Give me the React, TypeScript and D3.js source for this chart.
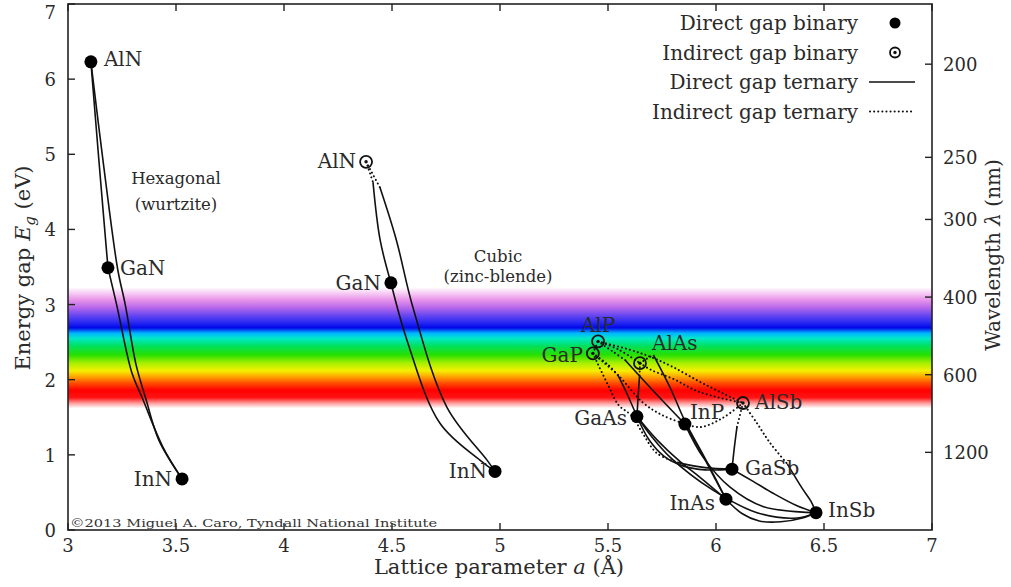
import React from 'react';
import * as d3 from 'd3';

// binaries: lattice parameter a (Å), band gap Eg (eV)
const wurtziteBinaries = [
  { name: 'AlN', a: 3.106, eg: 6.23, direct: true },
  { name: 'GaN', a: 3.185, eg: 3.49, direct: true },
  { name: 'InN', a: 3.528, eg: 0.68, direct: true },
];
const cubicNitrides = [
  { name: 'AlN', a: 4.38, eg: 4.9, direct: false },
  { name: 'GaN', a: 4.495, eg: 3.29, direct: true },
  { name: 'InN', a: 4.977, eg: 0.78, direct: true },
];
const cubicIIIV = [
  { name: 'AlP', a: 5.454, eg: 2.51, direct: false },
  { name: 'GaP', a: 5.43, eg: 2.35, direct: false },
  { name: 'AlAs', a: 5.648, eg: 2.22, direct: false },
  { name: 'AlSb', a: 6.125, eg: 1.69, direct: false },
  { name: 'GaAs', a: 5.634, eg: 1.51, direct: true },
  { name: 'InP', a: 5.856, eg: 1.41, direct: true },
  { name: 'GaSb', a: 6.074, eg: 0.81, direct: true },
  { name: 'InAs', a: 6.046, eg: 0.41, direct: true },
  { name: 'InSb', a: 6.463, eg: 0.23, direct: true },
];

// ternary curves, split in indirect / direct parts
const wurtziteTernaries = [
  { pair: 'AlN-GaN', parts: [{ gap: 'direct', pts: [[3.106, 6.23], [3.145, 4.85], [3.185, 3.49]] }] },
  { pair: 'AlN-InN', parts: [{ gap: 'direct', pts: [[3.106, 6.23], [3.165, 4.85], [3.23, 3.47], [3.265, 3.0], [3.315, 2.2], [3.36, 1.75], [3.42, 1.2], [3.528, 0.68]] }] },
  { pair: 'GaN-InN', parts: [{ gap: 'direct', pts: [[3.185, 3.49], [3.225, 3.0], [3.295, 2.1], [3.345, 1.75], [3.44, 1.1], [3.528, 0.68]] }] },
];
const cubicNitrideTernaries = [
  { pair: 'AlN-GaN', parts: [
    { gap: 'indirect', pts: [[4.38, 4.9], [4.412, 4.63]] },
    { gap: 'direct', pts: [[4.412, 4.63], [4.445, 3.86], [4.495, 3.29]] },
  ] },
  { pair: 'AlN-InN', parts: [
    { gap: 'indirect', pts: [[4.38, 4.9], [4.444, 4.56]] },
    { gap: 'direct', pts: [[4.444, 4.56], [4.52, 3.86], [4.597, 2.96], [4.755, 1.63], [4.94, 0.93], [4.977, 0.78]] },
  ] },
  { pair: 'GaN-InN', parts: [
    { gap: 'direct', pts: [[4.495, 3.29], [4.57, 2.52], [4.722, 1.42], [4.907, 0.93], [4.977, 0.78]] },
  ] },
];
const iiiVTernaries = [
  { pair: 'GaP-AlP', parts: [{ gap: 'indirect', pts: [[5.43, 2.35], [5.454, 2.51]] }] },
  { pair: 'AlP-AlAs', parts: [{ gap: 'indirect', pts: [[5.454, 2.51], [5.55, 2.4], [5.648, 2.22]] }] },
  { pair: 'AlP-AlSb', parts: [{ gap: 'indirect', pts: [[5.454, 2.51], [5.6, 2.4], [5.7, 2.3], [5.8, 2.17], [5.94, 1.95], [6.125, 1.69]] }] },
  { pair: 'AlAs-AlSb', parts: [{ gap: 'indirect', pts: [[5.648, 2.22], [5.7, 2.13], [5.81, 2.0], [5.92, 1.84], [6.125, 1.69]] }] },
  { pair: 'GaP-GaAs', parts: [
    { gap: 'indirect', pts: [[5.43, 2.35], [5.5, 2.2], [5.546, 2.06]] },
    { gap: 'direct', pts: [[5.546, 2.06], [5.59, 1.8], [5.634, 1.51]] },
  ] },
  { pair: 'GaP-InP', parts: [{ gap: 'indirect', pts: [[5.43, 2.35], [5.55, 2.05], [5.66, 1.7], [5.75, 1.53], [5.856, 1.41]] }] },
  { pair: 'GaP-GaSb', parts: [
    { gap: 'indirect', pts: [[5.43, 2.35], [5.5, 1.93], [5.55, 1.66], [5.61, 1.52], [5.66, 1.29], [5.727, 1.02], [5.82, 0.9]] },
    { gap: 'direct', pts: [[5.82, 0.9], [5.95, 0.83], [6.074, 0.81]] },
  ] },
  { pair: 'AlP-InP', parts: [
    { gap: 'indirect', pts: [[5.454, 2.51], [5.52, 2.38], [5.58, 2.26]] },
    { gap: 'direct', pts: [[5.58, 2.26], [5.72, 1.82], [5.856, 1.41]] },
  ] },
  { pair: 'AlAs-GaAs', parts: [
    { gap: 'indirect', pts: [[5.648, 2.22], [5.646, 2.05]] },
    { gap: 'direct', pts: [[5.646, 2.05], [5.64, 1.8], [5.634, 1.51]] },
  ] },
  { pair: 'AlAs-InAs', parts: [
    { gap: 'indirect', pts: [[5.648, 2.22], [5.68, 2.28], [5.71, 2.33]] },
    { gap: 'direct', pts: [[5.71, 2.33], [5.79, 1.88], [5.856, 1.45], [5.95, 0.95], [6.046, 0.41]] },
  ] },
  { pair: 'GaAs-InAs', parts: [{ gap: 'direct', pts: [[5.634, 1.51], [5.727, 1.2], [5.83, 0.92], [5.926, 0.7], [6.046, 0.41]] }] },
  { pair: 'InP-InAs', parts: [{ gap: 'direct', pts: [[5.856, 1.41], [5.926, 1.06], [6.0, 0.66], [6.046, 0.41]] }] },
  { pair: 'InP-InSb', parts: [{ gap: 'direct', pts: [[5.856, 1.41], [5.94, 0.97], [6.065, 0.57], [6.22, 0.31], [6.463, 0.23]] }] },
  { pair: 'GaAs-GaSb', parts: [{ gap: 'direct', pts: [[5.634, 1.51], [5.69, 1.2], [5.76, 0.98], [5.85, 0.85], [5.95, 0.8], [6.074, 0.81]] }] },
  { pair: 'GaAs-InSb', parts: [{ gap: 'direct', pts: [[5.634, 1.51], [5.7, 1.25], [5.787, 0.97], [5.986, 0.53], [6.19, 0.23], [6.375, 0.16], [6.463, 0.23]] }] },
  { pair: 'InAs-InSb', parts: [{ gap: 'direct', pts: [[6.046, 0.41], [6.12, 0.22], [6.2, 0.12], [6.3, 0.11], [6.4, 0.16], [6.463, 0.23]] }] },
  { pair: 'GaSb-InSb', parts: [{ gap: 'direct', pts: [[6.074, 0.81], [6.17, 0.65], [6.264, 0.49], [6.37, 0.33], [6.463, 0.23]] }] },
  { pair: 'AlSb-GaSb', parts: [
    { gap: 'indirect', pts: [[6.125, 1.69], [6.097, 1.37]] },
    { gap: 'direct', pts: [[6.097, 1.37], [6.085, 1.1], [6.074, 0.81]] },
  ] },
  { pair: 'AlSb-InSb', parts: [
    { gap: 'indirect', pts: [[6.125, 1.69], [6.19, 1.42], [6.25, 1.16], [6.33, 0.88]] },
    { gap: 'direct', pts: [[6.33, 0.88], [6.4, 0.55], [6.44, 0.38], [6.463, 0.23]] },
  ] },
  { pair: 'InP-AlSb', parts: [{ gap: 'indirect', pts: [[5.856, 1.41], [5.93, 1.37], [6.03, 1.49], [6.125, 1.69]] }] },
];

// visible spectrum band: photon energy (eV) -> colour
const spectrumEnergy = [3.23, 3.15, 3.07, 2.96, 2.86, 2.76, 2.69, 2.62, 2.55, 2.45, 2.33, 2.22, 2.12, 2.04, 1.96, 1.86, 1.76, 1.69, 1.62];
const spectrumColor = ['#ffffff', '#f6ccf4', '#ea98ea', '#b868ea', '#6a48f0', '#2828f4', '#0008e8', '#00b4ff', '#00e8c8', '#00e060', '#28e000', '#a8f000', '#f4f000', '#ffa400', '#ff5200', '#ff0000', '#ff1414', '#ff9898', '#ffffff'];

const xTicks = [3, 3.5, 4, 4.5, 5, 5.5, 6, 6.5, 7];
const yTicks = [0, 1, 2, 3, 4, 5, 6, 7];
const wavelengthTicks = [200, 250, 300, 400, 600, 1200];
const legendLabels = ['Direct gap binary', 'Indirect gap binary', 'Direct gap ternary', 'Indirect gap ternary'];

// label placement around markers (dx, dy, anchor)
const labelPlace: Record<string, [number, number, string]> = {
  'wz:AlN': [13, 4, 'start'], 'wz:GaN': [12, 7, 'start'], 'wz:InN': [-10, 7, 'end'],
  'zb:AlN': [-10, 6, 'end'], 'zb:GaN': [-10, 7, 'end'], 'zb:InN': [-8, 7, 'end'],
  'v:AlP': [0, -9, 'middle'], 'v:GaP': [-10, 9, 'end'], 'v:AlAs': [12, -13, 'start'],
  'v:AlSb': [12, 6, 'start'], 'v:GaAs': [-10, 8, 'end'], 'v:InP': [5, -5, 'start'],
  'v:GaSb': [13, 6, 'start'], 'v:InAs': [-11, 11, 'end'], 'v:InSb': [12, 4, 'start'],
};

const FONT = '"DejaVu Serif", serif';
const TXT = '#2a2a2a';

export default function App() {
  const width = 1011, height = 587;
  const margin = { left: 68, right: 79, top: 4, bottom: 57 };
  const x = d3.scaleLinear().domain([3, 7]).range([margin.left, width - margin.right]);
  const y = d3.scaleLinear().domain([0, 7]).range([height - margin.bottom, margin.top]);
  const line = d3.line<number[]>().x(d => x(d[0])).y(d => y(d[1])).curve(d3.curveCatmullRom.alpha(0.5));

  const x0 = x(3), x1 = x(7), y0 = y(0), y1 = y(7);

  const curves = [...wurtziteTernaries, ...cubicNitrideTernaries, ...iiiVTernaries];
  const groups: [string, typeof cubicIIIV][] = [['wz', wurtziteBinaries], ['zb', cubicNitrides], ['v', cubicIIIV]];

  const marker = (cx: number, cy: number, direct: boolean, r = 6.5) =>
    direct ? <circle cx={cx} cy={cy} r={r} fill="#000" /> : (
      <g>
        <circle cx={cx} cy={cy} r={r - 0.5} fill="none" stroke="#111" strokeWidth={1.8} />
        <circle cx={cx} cy={cy} r={1.7} fill="#111" />
      </g>
    );

  return (
    <svg width={width} height={height} style={{ position: 'absolute', left: 0, top: 0, background: '#fff' }} fontFamily={FONT}>
      <defs>
        <linearGradient id="spectrum" gradientUnits="userSpaceOnUse" x1={0} x2={0}
          y1={y(spectrumEnergy[0])} y2={y(spectrumEnergy[spectrumEnergy.length - 1])}>
          {spectrumEnergy.map((e, i) => (
            <stop key={i}
              offset={(y(e) - y(spectrumEnergy[0])) / (y(spectrumEnergy[spectrumEnergy.length - 1]) - y(spectrumEnergy[0]))}
              stopColor={spectrumColor[i]} />
          ))}
        </linearGradient>
      </defs>

      <rect x={x0} y={y(spectrumEnergy[0])} width={x1 - x0}
        height={y(spectrumEnergy[spectrumEnergy.length - 1]) - y(spectrumEnergy[0])} fill="url(#spectrum)" />

      {/* ternary curves */}
      {curves.map(c => c.parts.map((p, i) => (
        <path key={c.pair + i + p.pts[0][0]} d={line(p.pts) || ''} fill="none" stroke="#111"
          strokeWidth={p.gap === 'direct' ? 1.6 : 2}
          strokeDasharray={p.gap === 'direct' ? undefined : '0.1 4'}
          strokeLinecap={p.gap === 'direct' ? 'butt' : 'round'} />
      )))}

      {/* binaries */}
      {groups.map(([g, list]) => list.map(b => {
        const [dx, dy, anchor] = labelPlace[g + ':' + b.name];
        return (
          <g key={g + b.name}>
            {marker(x(b.a), y(b.eg), b.direct)}
            <text x={x(b.a) + dx} y={y(b.eg) + dy} fontSize={20} textAnchor={anchor} fill={TXT}>{b.name}</text>
          </g>
        );
      }))}

      <text x={176} y={184} fontSize={16.5} textAnchor="middle" fill={TXT}>Hexagonal</text>
      <text x={176} y={210} fontSize={16.5} textAnchor="middle" fill={TXT}>(wurtzite)</text>
      <text x={498} y={262} fontSize={16.5} textAnchor="middle" fill={TXT}>Cubic</text>
      <text x={498} y={282} fontSize={16.5} textAnchor="middle" fill={TXT}>(zinc-blende)</text>

      {/* frame and ticks */}
      <rect x={x0} y={y1} width={x1 - x0} height={y0 - y1} fill="none" stroke="#222" strokeWidth={1.6} />
      {xTicks.map(t => (
        <g key={'x' + t}>
          <line x1={x(t)} x2={x(t)} y1={y0} y2={y0 - 7} stroke="#222" strokeWidth={1.4} />
          <line x1={x(t)} x2={x(t)} y1={y1} y2={y1 + 7} stroke="#222" strokeWidth={1.4} />
          <text x={x(t)} y={y0 + 22} fontSize={18} textAnchor="middle" fill={TXT}>{t}</text>
        </g>
      ))}
      {yTicks.map(t => (
        <g key={'y' + t}>
          <line x1={x0} x2={x0 + 7} y1={y(t)} y2={y(t)} stroke="#222" strokeWidth={1.4} />
          <text x={x0 - 12} y={Math.max(y(t) + 7, 19)} fontSize={18} textAnchor="end" fill={TXT}>{t}</text>
        </g>
      ))}
      {wavelengthTicks.map(l => {
        const yy = y(1239.84 / l);
        return (
          <g key={'w' + l}>
            <line x1={x1} x2={x1 - 7} y1={yy} y2={yy} stroke="#222" strokeWidth={1.4} />
            <text x={x1 + 11} y={yy + 7} fontSize={18} fill={TXT}>{l}</text>
          </g>
        );
      })}

      {/* axis titles */}
      <text x={499} y={574} fontSize={21} textAnchor="middle" fill={TXT}>
        Lattice parameter <tspan fontStyle="italic">a</tspan> (Å)
      </text>
      <text transform="translate(30,268) rotate(-90)" fontSize={21} textAnchor="middle" fill={TXT}>
        Energy gap <tspan fontStyle="italic">E</tspan><tspan fontStyle="italic" fontSize={15} dy={5}>g</tspan><tspan dy={-5}> (eV)</tspan>
      </text>
      <text transform="translate(1000,255) rotate(-90)" fontSize={20} textAnchor="middle" fill={TXT}>
        Wavelength <tspan fontStyle="italic">λ</tspan> (nm)
      </text>

      <text x={70} y={527} fontSize={11.5} fill="#333" textLength={367} lengthAdjust="spacingAndGlyphs">
        ©2013 Miguel A. Caro, Tyndall National Institute
      </text>

      {/* legend */}
      {legendLabels.map((l, i) => {
        const ly = 23 + i * 29.5;
        return (
          <g key={l}>
            <text x={858} y={ly + 7} fontSize={20} textAnchor="end" fill={TXT}>{l}</text>
            {i === 0 && marker(895, ly, true, 5.5)}
            {i === 1 && marker(895, ly, false, 5.5)}
            {i === 2 && <line x1={869} x2={915} y1={ly} y2={ly} stroke="#111" strokeWidth={1.6} />}
            {i === 3 && <line x1={870} x2={912} y1={ly} y2={ly} stroke="#111" strokeWidth={2} strokeDasharray="0.1 4" strokeLinecap="round" />}
          </g>
        );
      })}
    </svg>
  );
}
